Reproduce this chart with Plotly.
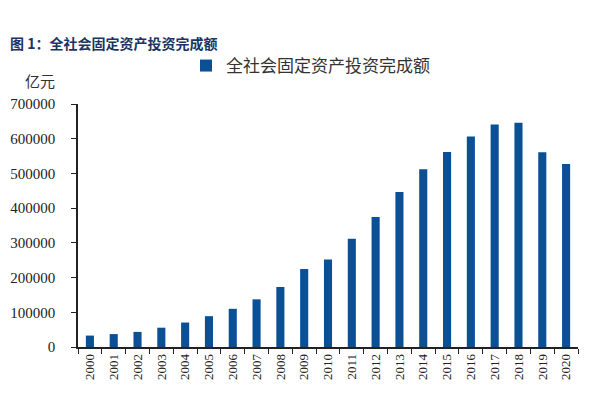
import plotly.graph_objects as go

years = [str(y) for y in range(2000, 2021)]
values = [32900, 37200, 43500, 55600, 70500, 88800, 110000, 137300, 172800,
          224600, 251700, 311500, 374700, 446300, 512000, 562000, 606500,
          641200, 645700, 560900, 527300]
y_ticks = [0, 100000, 200000, 300000, 400000, 500000, 600000, 700000]
series_name = "全社会固定资产投资完成额"
title_text = "图 1：全社会固定资产投资完成额"
unit_text = "亿元"

# the page body adds an 8px offset; work in page coordinates
OFF = 8
W, H = 600 - OFF, 399 - OFF
PL, PR, PT, PB = 78, 578, 104, 347          # plot area in page pixels
L, R, T, B = PL - OFF, W - (PR - OFF), PT - OFF, H - (PB - OFF)
pw, ph = W - L - R, H - T - B

def px_x(x):
    return (x - OFF - L) / pw

def px_y(y):
    return (H - B - (y - OFF)) / ph

serif = "Liberation Serif, Times New Roman, serif"
cjk = "Noto Sans CJK SC"

fig = go.Figure()
fig.add_trace(go.Bar(
    x=years, y=values, name=series_name,
    marker=dict(color="#0b4f95", line=dict(width=0)),
))

fig.update_layout(
    width=W, height=H,
    margin=dict(l=L, r=R, t=T, b=B, pad=0, autoexpand=False),
    paper_bgcolor="white", plot_bgcolor="white",
    bargap=0.66,
    showlegend=True,
    legend=dict(
        xref="container", yref="container",
        x=(186 - OFF) / W, y=1 - (66 - OFF) / H, xanchor="left", yanchor="middle",
        orientation="h", bgcolor="rgba(0,0,0,0)", borderwidth=0,
        font=dict(family=cjk, size=17, color="#333333"),
        itemwidth=30,
    ),
    xaxis=dict(
        type="category", showgrid=False, zeroline=False, automargin=False,
        showline=True, linecolor="#222222", linewidth=1.5,
        ticks="outside", tickson="boundaries", ticklen=5, tickwidth=1.2,
        tickcolor="#222222", tickangle=-90,
        tickfont=dict(family=serif, size=13, color="#222222"),
        range=[-0.5, len(years) - 0.5],
    ),
    yaxis=dict(
        range=[0, 700000], tickvals=y_ticks,
        ticktext=[str(v) for v in y_ticks], automargin=False,
        showgrid=False, zeroline=False,
        showline=True, linecolor="#222222", linewidth=1.5,
        ticks="outside", ticklen=5, tickwidth=1.2, tickcolor="#222222",
        tickfont=dict(family=serif, size=15, color="#222222"),
        ticklabelstandoff=13,
    ),
    annotations=[
        dict(text="<b>" + title_text + "</b>", xref="paper", yref="paper",
             x=px_x(8), y=px_y(43), xanchor="left", yanchor="middle",
             showarrow=False, font=dict(family=cjk, size=14, color="#1b3461")),
        dict(text=unit_text, xref="paper", yref="paper",
             x=px_x(40), y=px_y(80), xanchor="center", yanchor="middle",
             showarrow=False, font=dict(family=cjk, size=15, color="#333333")),
    ],
)

fig.write_html("out.html")
